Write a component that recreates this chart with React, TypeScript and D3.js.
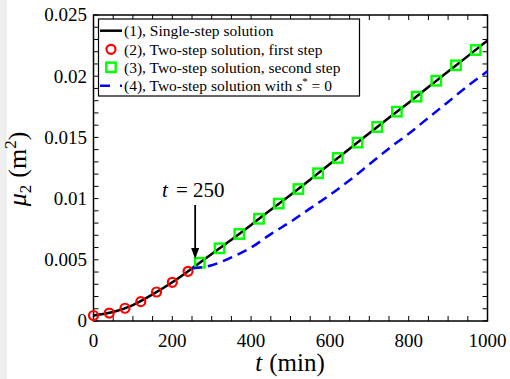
import React, { useRef, useEffect } from 'react';
import * as d3 from 'd3';

// (1) single-step solution, read at 50 min steps
const tSingle = [0, 50, 100, 150, 200, 250, 300, 350, 400, 450, 500, 550, 600, 650, 700, 750, 800, 850, 900, 950, 1000];
const muSingle = [0.00045, 0.00073, 0.0013, 0.00217, 0.00316, 0.0043, 0.00547, 0.00664, 0.00785, 0.00909, 0.0103,
  0.01155, 0.01282, 0.01407, 0.01534, 0.0166, 0.01784, 0.01911, 0.02038, 0.02164, 0.02292];

// (2) two-step, first step
const tFirst = [0, 40, 80, 120, 160, 200, 240];
const muFirst = [0.00045, 0.00065, 0.00104, 0.00158, 0.00237, 0.00316, 0.00406];

// (3) two-step, second step
const tSecond = [270, 320, 370, 420, 470, 520, 570, 620, 670, 720, 770, 820, 870, 920, 970];
const muSecond = [0.00476, 0.00594, 0.00711, 0.00835, 0.00959, 0.01078, 0.01207, 0.01332, 0.01457, 0.01585,
  0.0171, 0.01833, 0.01963, 0.02089, 0.02214];

// (4) two-step with s* = 0
const tZero = [250, 300, 350, 400, 450, 500, 550, 600, 650, 700, 750, 800, 850, 900, 950, 1000];
const muZero = [0.0043, 0.00455, 0.0052, 0.006, 0.0071, 0.0081, 0.0092, 0.0103, 0.0115, 0.0128, 0.0141,
  0.0153, 0.0166, 0.0179, 0.0192, 0.0204];

const xTicks = [0, 200, 400, 600, 800, 1000];
const xTickLabels = ['0', '200', '400', '600', '800', '1000'];
const yTicks = [0, 0.005, 0.01, 0.015, 0.02, 0.025];
const yTickLabels = ['0', '0.005', '0.01', '0.015', '0.02', '0.025'];

const legendLabels = [
  '(1), Single-step solution',
  '(2), Two-step solution, first step',
  '(3), Two-step solution, second step',
  '(4), Two-step solution with ',
];

const FONT = '"Liberation Serif", "Times New Roman", serif';

const App: React.FC = () => {
  const svgRef = useRef<SVGSVGElement>(null);
  const width = 510;
  const height = 379;

  useEffect(() => {
    if (!svgRef.current) return;
    const svg = d3.select(svgRef.current);
    svg.selectAll('*').remove();

    const left = 93.5, right = 487.5, top = 15, bottom = 321;
    const x = d3.scaleLinear().domain([0, 1000]).range([left, right]);
    const y = d3.scaleLinear().domain([0, 0.025]).range([bottom, top]);

    // page background strip on the left
    svg.append('rect').attr('x', 0).attr('y', 0).attr('width', width).attr('height', height).attr('fill', '#fff');
    svg.append('rect').attr('x', 0).attr('y', 0).attr('width', 7).attr('height', height).attr('fill', '#efefef');

    // minor + major ticks, inward on all four sides
    const xMinor = d3.range(0, 1001, 50);
    const yMinor = d3.range(0, 26).map(i => i * 0.001);
    const tl = 5;
    xMinor.forEach(v => {
      svg.append('line').attr('x1', x(v)).attr('x2', x(v)).attr('y1', bottom).attr('y2', bottom - tl)
        .attr('stroke', '#000').attr('stroke-width', 1);
      svg.append('line').attr('x1', x(v)).attr('x2', x(v)).attr('y1', top).attr('y2', top + tl)
        .attr('stroke', '#000').attr('stroke-width', 1);
    });
    yMinor.forEach(v => {
      svg.append('line').attr('x1', left).attr('x2', left + tl).attr('y1', y(v)).attr('y2', y(v))
        .attr('stroke', '#000').attr('stroke-width', 1);
      svg.append('line').attr('x1', right).attr('x2', right - tl).attr('y1', y(v)).attr('y2', y(v))
        .attr('stroke', '#000').attr('stroke-width', 1);
    });

    svg.append('rect').attr('x', left).attr('y', top).attr('width', right - left).attr('height', bottom - top)
      .attr('fill', 'none').attr('stroke', '#000').attr('stroke-width', 1.5);

    xTicks.forEach((v, i) => {
      svg.append('text').attr('x', x(v)).attr('y', 346.5).attr('text-anchor', 'middle')
        .attr('font-family', FONT).attr('font-size', '19px').attr('fill', '#000').text(xTickLabels[i]);
    });
    yTicks.forEach((v, i) => {
      svg.append('text').attr('x', 87).attr('y', y(v)).attr('dy', '0.34em').attr('text-anchor', 'end')
        .attr('font-family', FONT).attr('font-size', '19px').attr('fill', '#000').text(yTickLabels[i]);
    });

    // axis labels
    const xl = svg.append('text').attr('x', 290).attr('y', 371).attr('text-anchor', 'middle')
      .attr('font-family', FONT).attr('font-size', '25px').attr('fill', '#000');
    xl.append('tspan').attr('font-style', 'italic').text('t');
    xl.append('tspan').attr('dx', 7).text('(min)');

    const yl = svg.append('text').attr('transform', 'translate(26,169) rotate(-90)').attr('text-anchor', 'middle')
      .attr('font-family', FONT).attr('font-size', '26px').attr('fill', '#000');
    yl.append('tspan').attr('font-style', 'italic').text('μ');
    yl.append('tspan').attr('font-size', '17px').attr('dy', 5).text('2');
    yl.append('tspan').attr('dy', -5).attr('dx', 7).text('(m');
    yl.append('tspan').attr('font-size', '17px').attr('dy', -10).text('2');
    yl.append('tspan').attr('dy', 10).text(')');

    const line = d3.line<[number, number]>().x(d => x(d[0])).y(d => y(d[1])).curve(d3.curveMonotoneX);

    // (1) black line
    svg.append('path').datum(tSingle.map((t, i) => [t, muSingle[i]] as [number, number]))
      .attr('d', line).attr('fill', 'none').attr('stroke', '#000').attr('stroke-width', 2.5);

    // (2) red circles
    tFirst.forEach((t, i) => {
      svg.append('circle').attr('cx', x(t)).attr('cy', y(muFirst[i])).attr('r', 4.5)
        .attr('fill', 'none').attr('stroke', '#ff0000').attr('stroke-width', 2.2);
    });

    // (3) green squares
    tSecond.forEach((t, i) => {
      svg.append('rect').attr('x', x(t) - 4.7).attr('y', y(muSecond[i]) - 4.7).attr('width', 9.4).attr('height', 9.4)
        .attr('fill', 'none').attr('stroke', '#00ff00').attr('stroke-width', 2.4);
    });

    // (4) blue dashed
    svg.append('path').datum(tZero.map((t, i) => [t, muZero[i]] as [number, number]))
      .attr('d', line).attr('fill', 'none').attr('stroke', '#0000ff').attr('stroke-width', 2.5)
      .attr('stroke-dasharray', '10,6');

    // annotation
    const ax = x(258);
    svg.append('line').attr('x1', ax).attr('x2', ax).attr('y1', 205).attr('y2', 250)
      .attr('stroke', '#000').attr('stroke-width', 1.8);
    svg.append('path').attr('d', `M${ax - 4},${248} L${ax + 4},${248} L${ax},${259} Z`).attr('fill', '#000');
    const ann = svg.append('text').attr('x', 162).attr('y', 197).attr('font-family', FONT)
      .attr('font-size', '21px').attr('fill', '#000');
    ann.append('tspan').attr('font-style', 'italic').text('t');
    ann.append('tspan').attr('x', 176).text('=');
    ann.append('tspan').attr('x', 193).text('250');

    // legend
    const lg = svg.append('g');
    lg.append('rect').attr('x', 98.5).attr('y', 19).attr('width', 261).attr('height', 77)
      .attr('fill', '#fff').attr('stroke', '#000').attr('stroke-width', 1.2);
    const rows = [30.7, 49.3, 67.3, 85.7];
    lg.append('line').attr('x1', 100).attr('x2', 122).attr('y1', rows[0]).attr('y2', rows[0])
      .attr('stroke', '#000').attr('stroke-width', 2.5);
    lg.append('circle').attr('cx', 111).attr('cy', rows[1]).attr('r', 4.5)
      .attr('fill', 'none').attr('stroke', '#ff0000').attr('stroke-width', 2.2);
    lg.append('rect').attr('x', 111 - 4.7).attr('y', rows[2] - 4.7).attr('width', 9.4).attr('height', 9.4)
      .attr('fill', 'none').attr('stroke', '#00ff00').attr('stroke-width', 2.4);
    lg.append('line').attr('x1', 100).attr('x2', 122).attr('y1', rows[3]).attr('y2', rows[3])
      .attr('stroke', '#0000ff').attr('stroke-width', 2.5).attr('stroke-dasharray', '10,10');

    legendLabels.forEach((lab, i) => {
      const tx = lg.append('text').attr('x', 124).attr('y', rows[i]).attr('dy', '0.35em')
        .attr('font-family', FONT).attr('font-size', '15.5px').attr('fill', '#000');
      tx.append('tspan').text(lab);
      if (i === 3) {
        tx.append('tspan').attr('font-style', 'italic').text('s');
        tx.append('tspan').attr('font-size', '11px').attr('dy', -6).text('*');
        tx.append('tspan').attr('dy', 6).text(' = 0');
      }
    });
  }, []);

  return (
    <svg ref={svgRef} width={width} height={height}
      style={{ position: 'absolute', left: 0, top: 0, display: 'block' }} />
  );
};

export default App;
